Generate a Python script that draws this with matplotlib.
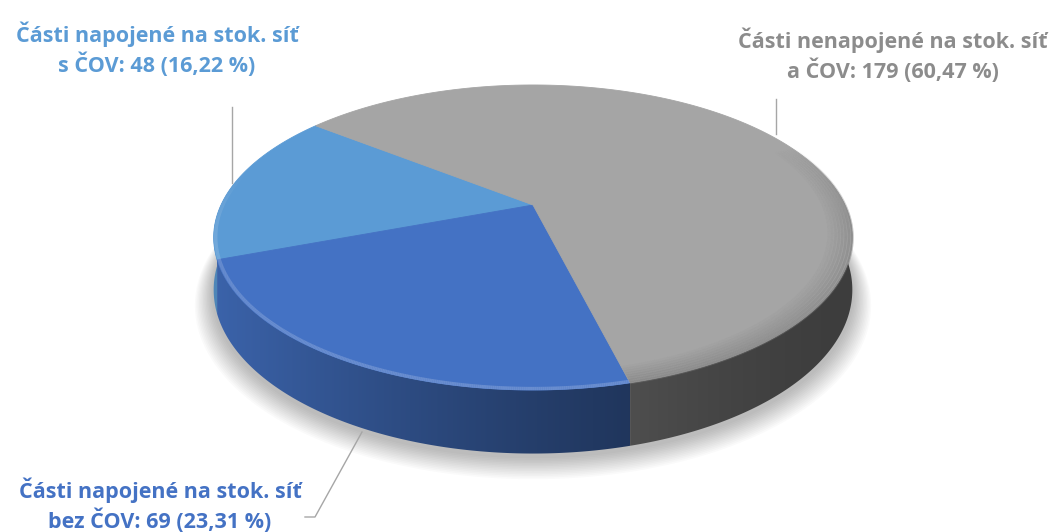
import numpy as np
import matplotlib.pyplot as plt
from matplotlib.patches import Polygon
from matplotlib.collections import LineCollection
from matplotlib.colors import to_rgb

# Počet částí obcí podle napojení na kanalizaci
labels = ["Části napojené na stok. síť\ns ČOV",
          "Části napojené na stok. síť\nbez ČOV",
          "Části nenapojené na stok. síť\na ČOV"]
values = [48, 69, 179]
colors = ["#5B9BD5", "#4472C4", "#A5A5A5"]
text_colors = ["#5B9BD5", "#4472C4", "#8C8C8C"]
start_angle = 142  # degrees, slices go counter-clockwise

total = sum(values)
pct = [100 * v / total for v in values]

# pie geometry in pixels (perspective disk)
cx, cy = 533, 205
A, B = 312, 145.6
persp = 0.213
thick = 50


def proj(theta, r=1.0, drop=0.0):
    th = np.radians(theta)
    X = r * np.cos(th)
    Z = r * np.sin(th)
    w = 1 + persp * Z
    return cx + A * X / w, cy - B * Z / w + thick * drop / w


def shade(t):
    # lighter on the left, darker to the right
    t = np.clip(t, 0, 1)
    return 0.37 + 0.5 * (1 - t) ** 1.5


def taper(a, lo=165, hi=385, w=30):
    return np.clip(np.minimum((a - lo) / w, (hi - a) / w), 0, 1)


fig = plt.figure(figsize=(10.55, 5.32), dpi=100)
ax = fig.add_axes([0, 0, 1, 1])
ax.set_xlim(0, 1055)
ax.set_ylim(532, 0)
ax.axis("off")

# slice boundaries
bounds = [start_angle]
for v in values:
    bounds.append(bounds[-1] + 360 * v / total)

# soft shadow under the pie
ang = np.linspace(0, 360, 361)
for k in range(14, 0, -1):
    u, v = proj(ang, r=1.0 + 0.004 * k, drop=1.0)
    ax.add_patch(Polygon(np.column_stack([u, v + 3 + 0.6 * k]), closed=True,
                         facecolor="#000000", alpha=0.02, edgecolor="none", zorder=1))

# side wall, gradient clipped to each slice's front part
xl, xr = cx - A * 1.03, cx + A * 1.03
xs = np.linspace(xl, xr, 400)
tx = (xs - xl) / (xr - xl)
for i in range(len(values)):
    for off in (0, -360, 360):
        s = max(bounds[i] + off, 170)
        e = min(bounds[i + 1] + off, 370)
        if e <= s:
            continue
        a = np.linspace(s, e, 200)
        ut, vt = proj(a)
        ub, vb = proj(a[::-1], drop=1.0)
        wall = Polygon(np.column_stack([np.r_[ut, ub], np.r_[vt, vb]]), closed=True,
                       facecolor="none", edgecolor="none", transform=ax.transData)
        ax.add_patch(wall)
        img = np.array(to_rgb(colors[i]))[None, None, :] * shade(tx)[None, :, None]
        im = ax.imshow(img, extent=(xl, xr, 470, 170), aspect="auto",
                       interpolation="bilinear", zorder=2)
        im.set_clip_path(wall)

# top faces
for i in range(len(values)):
    a = np.linspace(bounds[i], bounds[i + 1], 200)
    u, v = proj(a)
    pts = np.vstack([[cx, cy], np.column_stack([u, v])])
    ax.add_patch(Polygon(pts, closed=True, facecolor=colors[i],
                         edgecolor=colors[i], linewidth=0.6, zorder=3))

# bevel along the front edge of the top face
for i in range(len(values)):
    base = np.array(to_rgb(colors[i]))
    for off in (0, -360):
        s = max(bounds[i] + off, 165)
        e = min(bounds[i + 1] + off, 385)
        if e <= s:
            continue
        a = np.linspace(s, e, 300)
        fade = taper(0.5 * (a[:-1] + a[1:]))
        if i == 2:
            for j, r in enumerate(np.linspace(0.92, 1.0, 9)):
                u, v = proj(a, r=r)
                pts = np.column_stack([u, v])
                segs = np.stack([pts[:-1], pts[1:]], axis=1)
                c = base * (1 - 0.3 * j / 8)
                rgba = [(c[0], c[1], c[2], 0.45 * f) for f in fade]
                ax.add_collection(LineCollection(segs, colors=rgba, linewidths=2,
                                                 capstyle="butt", zorder=4))
        else:
            light = base + (1 - base) * 0.25
            u, v = proj(a, r=0.994)
            pts = np.column_stack([u, v])
            segs = np.stack([pts[:-1], pts[1:]], axis=1)
            rgba = [(light[0], light[1], light[2], 0.8 * f) for f in fade]
            ax.add_collection(LineCollection(segs, colors=rgba, linewidths=2.5,
                                             capstyle="butt", zorder=4))

# leader lines
lc = "#A6A6A6"
ax.plot([232, 232], [107, 183], color=lc, lw=1, zorder=5)
ax.plot([776, 776], [99, 134], color=lc, lw=1, zorder=5)
ax.plot([305, 315, 362], [517, 517, 432], color=lc, lw=1, zorder=5)

# data labels
label_pos = [(157, 49), (160, 505), (893, 55)]
for i in range(len(values)):
    first, second = labels[i].split("\n")
    p = f"{pct[i]:.2f}".replace(".", ",")
    txt = f"{first}\n{second}: {values[i]} ({p} %)"
    x, y = label_pos[i]
    ax.text(x, y, txt, ha="center", va="center", color=text_colors[i],
            fontsize=15.5, fontweight="bold", family="Open Sans",
            linespacing=1.3, zorder=6)

fig.savefig("out.png", dpi=100)
